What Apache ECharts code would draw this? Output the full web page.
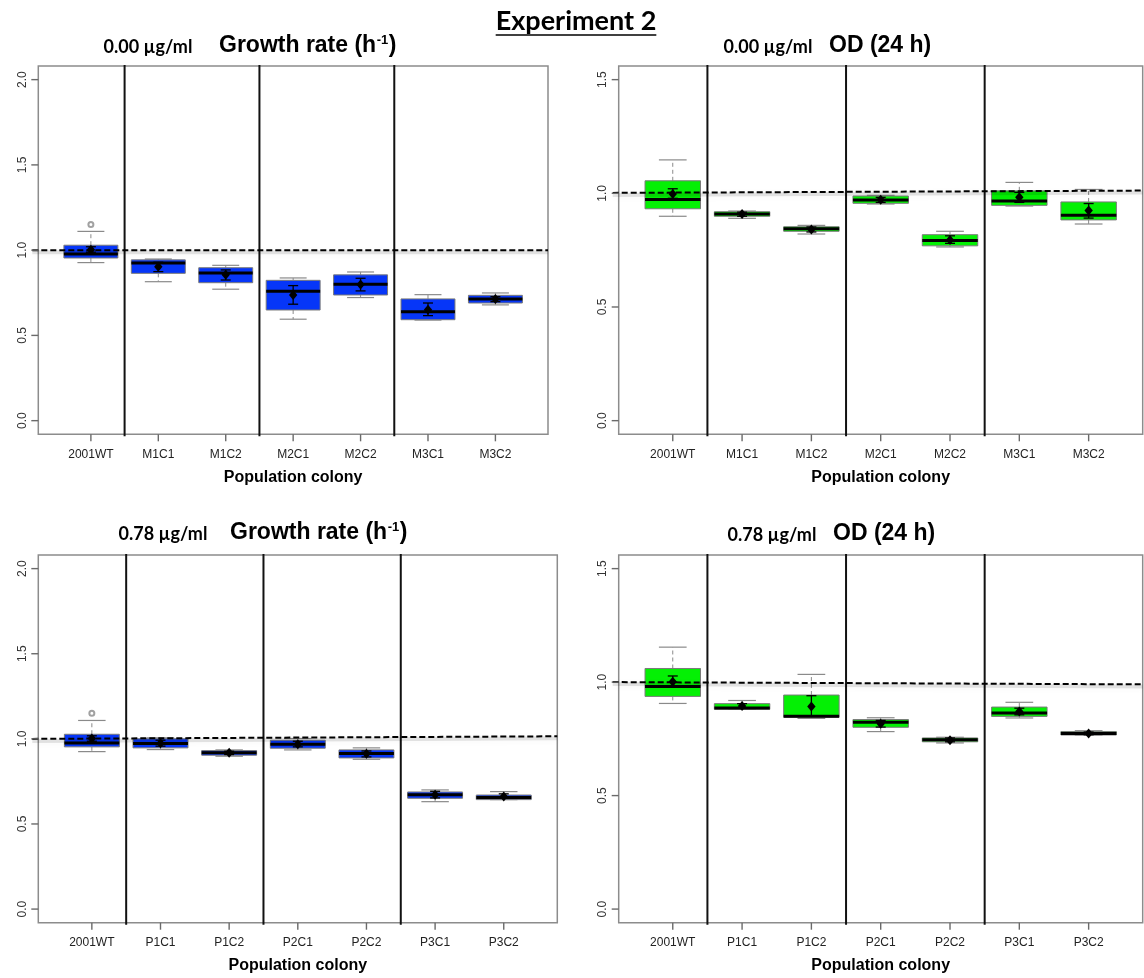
<!DOCTYPE html>
<html>
<head>
<meta charset="utf-8">
<script src="https://cdn.jsdelivr.net/npm/echarts@6/dist/echarts.min.js"></script>
<style>
  html, body { margin: 0; padding: 0; background: #fff; }
  #chart { width: 1144px; height: 978px; }
</style>
</head>
<body>
<div id="chart"></div>
<script>
// ---- categories -----------------------------------------------------------
const colonyM = ['2001WT', 'M1C1', 'M1C2', 'M2C1', 'M2C2', 'M3C1', 'M3C2'];
const colonyP = ['2001WT', 'P1C1', 'P1C2', 'P2C1', 'P2C2', 'P3C1', 'P3C2'];

// ---- tick labels ------------------------------------------------------------
const growthTicks = [0, 0.5, 1.0, 1.5, 2.0];
const odTicks = [0, 0.5, 1.0, 1.5];

// ---- growth rate, 0.00 ug/ml: [lower whisker, Q1, median, Q3, upper whisker]
const growth000Box = [
  [0.927, 0.954, 0.977, 1.029, 1.110],
  [0.815, 0.864, 0.925, 0.943, 0.948],
  [0.771, 0.809, 0.866, 0.897, 0.911],
  [0.595, 0.649, 0.759, 0.823, 0.837],
  [0.722, 0.737, 0.800, 0.855, 0.872],
  [0.590, 0.592, 0.639, 0.714, 0.739],
  [0.679, 0.690, 0.714, 0.735, 0.749]
];
const growth000Mean = [1.002, 0.903, 0.855, 0.737, 0.798, 0.651, 0.714];
const growth000Err = [[0.988, 1.020], [0.874, 0.929], [0.825, 0.884], [0.683, 0.792], [0.761, 0.835], [0.616, 0.690], [0.698, 0.727]];
const growth000Outliers = [[1, 1.150]];
const growth000Ref = [1.000, 1.000];

// ---- OD (24 h), 0.00 ug/ml --------------------------------------------------
const od000Box = [
  [0.899, 0.932, 0.973, 1.055, 1.147],
  [0.890, 0.899, 0.909, 0.919, 0.922],
  [0.821, 0.833, 0.844, 0.853, 0.859],
  [0.953, 0.956, 0.971, 0.988, 0.991],
  [0.764, 0.769, 0.792, 0.818, 0.833],
  [0.944, 0.947, 0.966, 1.011, 1.048],
  [0.865, 0.883, 0.903, 0.962, 1.017]
];
const od000Mean = [0.997, 0.909, 0.841, 0.972, 0.795, 0.983, 0.924];
const od000Err = [[0.978, 1.020], [0.899, 0.917], [0.830, 0.852], [0.960, 0.982], [0.780, 0.813], [0.960, 1.004], [0.891, 0.955]];
const od000Outliers = [];
const od000Ref = [1.002, 1.012];

// ---- growth rate, 0.78 ug/ml ------------------------------------------------
const growth078Box = [
  [0.925, 0.953, 0.976, 1.027, 1.108],
  [0.937, 0.947, 0.972, 1.000, 1.006],
  [0.898, 0.904, 0.918, 0.931, 0.935],
  [0.935, 0.945, 0.968, 0.992, 1.002],
  [0.880, 0.888, 0.914, 0.935, 0.947],
  [0.631, 0.651, 0.672, 0.688, 0.700],
  [0.643, 0.643, 0.655, 0.670, 0.690]
];
const growth078Mean = [1.002, 0.974, 0.918, 0.968, 0.912, 0.672, 0.662];
const growth078Err = [[0.986, 1.018], [0.957, 0.992], [0.908, 0.927], [0.953, 0.986], [0.894, 0.929], [0.653, 0.692], [0.651, 0.677]];
const growth078Outliers = [[1, 1.151]];
const growth078Ref = [1.000, 1.015];

// ---- OD (24 h), 0.78 ug/ml --------------------------------------------------
const od078Box = [
  [0.906, 0.937, 0.981, 1.060, 1.154],
  [0.880, 0.880, 0.886, 0.905, 0.919],
  [0.840, 0.845, 0.850, 0.943, 1.034],
  [0.782, 0.801, 0.823, 0.835, 0.843],
  [0.732, 0.737, 0.746, 0.754, 0.757],
  [0.842, 0.849, 0.864, 0.890, 0.911],
  [0.767, 0.767, 0.774, 0.782, 0.786]
];
const od078Mean = [1.002, 0.895, 0.893, 0.817, 0.744, 0.871, 0.774];
const od078Err = [[0.977, 1.027], [0.886, 0.905], [0.849, 0.940], [0.802, 0.831], [0.737, 0.754], [0.856, 0.885], [0.768, 0.780]];
const od078Outliers = [];
const od078Ref = [1.000, 0.990];

// group boundaries between the colony sets
const separators = [1.5, 3.5, 5.5];

// ---- styling --------------------------------------------------------------
const BLUE = '#0636f8';
const GREEN = '#04f004';
const FRAME = '#8c8c8c';
const TICK = '#6a6a6a';
const R_FONT = '"Liberation Sans", Arial, sans-serif';
const TITLE_FONT = 'Lato, "Noto Sans", sans-serif';

// box-plot items: [position, low, q1, median, q3, high, mean, errLo, errHi]
function boxItems(box, mean, err) {
  return box.map((b, i) => [i + 1, b[0], b[1], b[2], b[3], b[4], mean[i], err[i][0], err[i][1]]);
}

function renderBox(fill) {
  return function (params, api) {
    const pos = api.value(0);
    const py = v => api.coord([pos, v])[1];
    const cx = api.coord([pos, 0])[0];
    const half = api.size([0.4, 0])[0];
    const staple = api.size([0.2, 0])[0];
    const yLow = py(api.value(1)), yQ1 = py(api.value(2)), yMed = py(api.value(3));
    const yQ3 = py(api.value(4)), yHigh = py(api.value(5));
    const yMean = py(api.value(6)), yEL = py(api.value(7)), yEH = py(api.value(8));
    const grey = '#8a8a8a';
    const whisker = { stroke: grey, lineWidth: 1, lineDash: [4, 3] };
    const cap = { stroke: grey, lineWidth: 1.2 };
    const eCap = 5;
    const dot = 4.2;
    return {
      type: 'group',
      children: [
        { type: 'line', shape: { x1: cx, y1: yQ3, x2: cx, y2: yHigh }, style: whisker },
        { type: 'line', shape: { x1: cx, y1: yQ1, x2: cx, y2: yLow }, style: whisker },
        { type: 'line', shape: { x1: cx - staple, y1: yHigh, x2: cx + staple, y2: yHigh }, style: cap },
        { type: 'line', shape: { x1: cx - staple, y1: yLow, x2: cx + staple, y2: yLow }, style: cap },
        { type: 'rect', shape: { x: cx - half, y: yQ3, width: 2 * half, height: Math.max(yQ1 - yQ3, 1) },
          style: { fill: fill, stroke: '#7a7a7a', lineWidth: 1 } },
        { type: 'line', shape: { x1: cx - half, y1: yMed, x2: cx + half, y2: yMed },
          style: { stroke: '#000', lineWidth: 3 } },
        { type: 'line', shape: { x1: cx, y1: yEL, x2: cx, y2: yEH }, style: { stroke: '#000', lineWidth: 1.3 } },
        { type: 'line', shape: { x1: cx - eCap, y1: yEL, x2: cx + eCap, y2: yEL }, style: { stroke: '#000', lineWidth: 1.3 } },
        { type: 'line', shape: { x1: cx - eCap, y1: yEH, x2: cx + eCap, y2: yEH }, style: { stroke: '#000', lineWidth: 1.3 } },
        { type: 'polygon', shape: { points: [[cx, yMean - dot - 0.8], [cx + dot, yMean], [cx, yMean + dot + 0.8], [cx - dot, yMean]] },
          style: { fill: '#000' } }
      ]
    };
  };
}

function renderSeparator(params, api) {
  const cs = params.coordSys;
  const x = api.coord([api.value(0), 1])[0];
  return {
    type: 'line',
    shape: { x1: x, y1: cs.y - 1, x2: x, y2: cs.y + cs.height + 2 },
    style: { stroke: '#111', lineWidth: 2 }
  };
}

function renderRef(params, api) {
  const cs = params.coordSys;
  const yL = api.coord([1, api.value(0)])[1];
  const yR = api.coord([1, api.value(1)])[1];
  const x1 = cs.x - 6, x2 = cs.x + cs.width;
  const slope = (yR - yL) / cs.width;
  const y1 = yL - slope * 6;
  return {
    type: 'group',
    children: [
      { type: 'line', shape: { x1: x1, y1: y1 + 2, x2: x2, y2: yR + 2 },
        style: { stroke: 'rgba(0,0,0,0.10)', lineWidth: 4, shadowBlur: 6, shadowColor: 'rgba(0,0,0,0.35)', shadowOffsetY: 1 } },
      { type: 'line', shape: { x1: x1, y1: y1, x2: x2, y2: yR },
        style: { stroke: '#000', lineWidth: 2, lineDash: [6, 3] } }
    ]
  };
}

const panels = [
  { grid: { left: 38.3, top: 66, width: 509.7, height: 368.3 }, cats: colonyM, ticks: growthTicks, yr: [-0.08, 2.08],
    items: boxItems(growth000Box, growth000Mean, growth000Err), out: growth000Outliers, ref: growth000Ref, fill: BLUE },
  { grid: { left: 618.7, top: 66, width: 524, height: 368.3 }, cats: colonyM, ticks: odTicks, yr: [-0.06, 1.56],
    items: boxItems(od000Box, od000Mean, od000Err), out: od000Outliers, ref: od000Ref, fill: GREEN },
  { grid: { left: 38.3, top: 555, width: 519, height: 367.7 }, cats: colonyP, ticks: growthTicks, yr: [-0.08, 2.08],
    items: boxItems(growth078Box, growth078Mean, growth078Err), out: growth078Outliers, ref: growth078Ref, fill: BLUE },
  { grid: { left: 618.7, top: 555, width: 524, height: 367.7 }, cats: colonyP, ticks: odTicks, yr: [-0.06, 1.56],
    items: boxItems(od078Box, od078Mean, od078Err), out: od078Outliers, ref: od078Ref, fill: GREEN }
];

const catPositions = [1, 2, 3, 4, 5, 6, 7];

const grids = [], xAxes = [], yAxes = [], series = [];
panels.forEach((p, i) => {
  grids.push(Object.assign({ show: true, borderColor: FRAME, borderWidth: 1.5, backgroundColor: 'transparent' }, p.grid));
  xAxes.push({
    gridIndex: i, type: 'value', min: 0.22, max: 7.78, position: 'bottom',
    axisLine: { show: false, onZero: false }, splitLine: { show: false }, axisTick: { show: false },
    axisLabel: { customValues: catPositions, formatter: v => p.cats[Math.round(v) - 1],
      fontFamily: R_FONT, fontSize: 12, color: '#222', margin: 14 },
    name: 'Population colony', nameLocation: 'middle', nameGap: 35,
    nameTextStyle: { fontFamily: R_FONT, fontSize: 16, fontWeight: 'bold', color: '#000' }
  });
  yAxes.push({
    gridIndex: i, type: 'value', min: p.yr[0], max: p.yr[1], position: 'left',
    axisLine: { show: false, onZero: false }, splitLine: { show: false }, axisTick: { show: false },
    axisLabel: { customValues: p.ticks, formatter: v => v.toFixed(1), rotate: 90,
      fontFamily: R_FONT, fontSize: 12, color: '#333', margin: 10 }
  });
  series.push({
    type: 'custom', xAxisIndex: i, yAxisIndex: i, renderItem: renderBox(p.fill),
    data: p.items, encode: { x: 0, y: [1, 2, 3, 4, 5, 6, 7, 8] }, z: 2, silent: true
  });
  if (p.out.length) {
    series.push({
      type: 'scatter', xAxisIndex: i, yAxisIndex: i, data: p.out, symbol: 'emptyCircle', symbolSize: 5,
      itemStyle: { color: '#8a8a8a', borderWidth: 0.8 }, z: 2, silent: true
    });
  }
  series.push({
    type: 'custom', xAxisIndex: i, yAxisIndex: i, renderItem: renderSeparator,
    data: separators.map(s => [s]), encode: { x: 0 }, clip: false, z: 4, silent: true
  });
  series.push({
    type: 'custom', xAxisIndex: i, yAxisIndex: i, renderItem: renderRef,
    data: [p.ref], encode: { y: [0, 1] }, clip: false, z: 5, silent: true
  });
});

// ---- headings -------------------------------------------------------------
const measureCtx = document.createElement('canvas').getContext('2d');
function textWidth(text, font) { measureCtx.font = font; return measureCtx.measureText(text).width; }

function txt(text, x, y, font, align) {
  return { type: 'text', x: x, y: y, z: 10,
    style: { text: text, font: font, fill: '#000', align: align || 'left', verticalAlign: 'middle',
      textAlign: align || 'left', textVerticalAlign: 'middle' } };
}

function heading(conc, concX, mainText, supText, closeText, mainX, y) {
  const concFont = 'bold 18px ' + TITLE_FONT;
  const mainFont = 'bold 23px ' + R_FONT;
  const supFont = 'bold 13px ' + R_FONT;
  const els = [txt(conc, concX, y + 1, concFont, 'center')];
  const w1 = textWidth(mainText, mainFont);
  els.push(txt(mainText, mainX, y, mainFont));
  if (supText) {
    const w2 = textWidth(supText, supFont);
    els.push(txt(supText, mainX + w1 + 0.5, y - 6, supFont));
    els.push(txt(closeText, mainX + w1 + w2 + 1, y, mainFont));
  }
  return els;
}

const expFont = 'bold 27px ' + TITLE_FONT;
const expText = 'Experiment 2';
const expW = textWidth(expText, expFont);
const expX = 576;

const graphics = [
  txt(expText, expX, 21, expFont, 'center'),
  { type: 'line', z: 10, shape: { x1: expX - expW / 2, y1: 35, x2: expX + expW / 2, y2: 35 },
    style: { stroke: '#000', lineWidth: 1.6 } }
]
  .concat(heading('0.00 \u00b5g/ml', 148, 'Growth rate (h', '-1', ')', 219, 46))
  .concat(heading('0.00 \u00b5g/ml', 768, 'OD (24 h)', null, null, 829, 46))
  .concat(heading('0.78 \u00b5g/ml', 163, 'Growth rate (h', '-1', ')', 230, 533))
  .concat(heading('0.78 \u00b5g/ml', 772, 'OD (24 h)', null, null, 833, 534));

const chart = echarts.init(document.getElementById('chart'), null, { renderer: 'canvas' });
chart.setOption({
  animation: false,
  backgroundColor: '#fff',
  grid: grids,
  xAxis: xAxes,
  yAxis: yAxes,
  series: series,
  graphic: { elements: graphics }
});

// outward R-style tick marks, placed through each panel's axes
const tickMarks = [];
panels.forEach((p, i) => {
  const g = p.grid;
  const yb = g.top + g.height;
  catPositions.forEach(c => {
    const x = chart.convertToPixel({ gridIndex: i }, [c, 1])[0];
    tickMarks.push({ type: 'line', z: 8, shape: { x1: x, y1: yb, x2: x, y2: yb + 7 },
      style: { stroke: TICK, lineWidth: 1.4 } });
  });
  p.ticks.forEach(t => {
    const y = chart.convertToPixel({ gridIndex: i }, [1, t])[1];
    tickMarks.push({ type: 'line', z: 8, shape: { x1: g.left - 7, y1: y, x2: g.left, y2: y },
      style: { stroke: TICK, lineWidth: 1.4 } });
  });
});
chart.setOption({ graphic: { elements: graphics.concat(tickMarks) } });
</script>
</body>
</html>
